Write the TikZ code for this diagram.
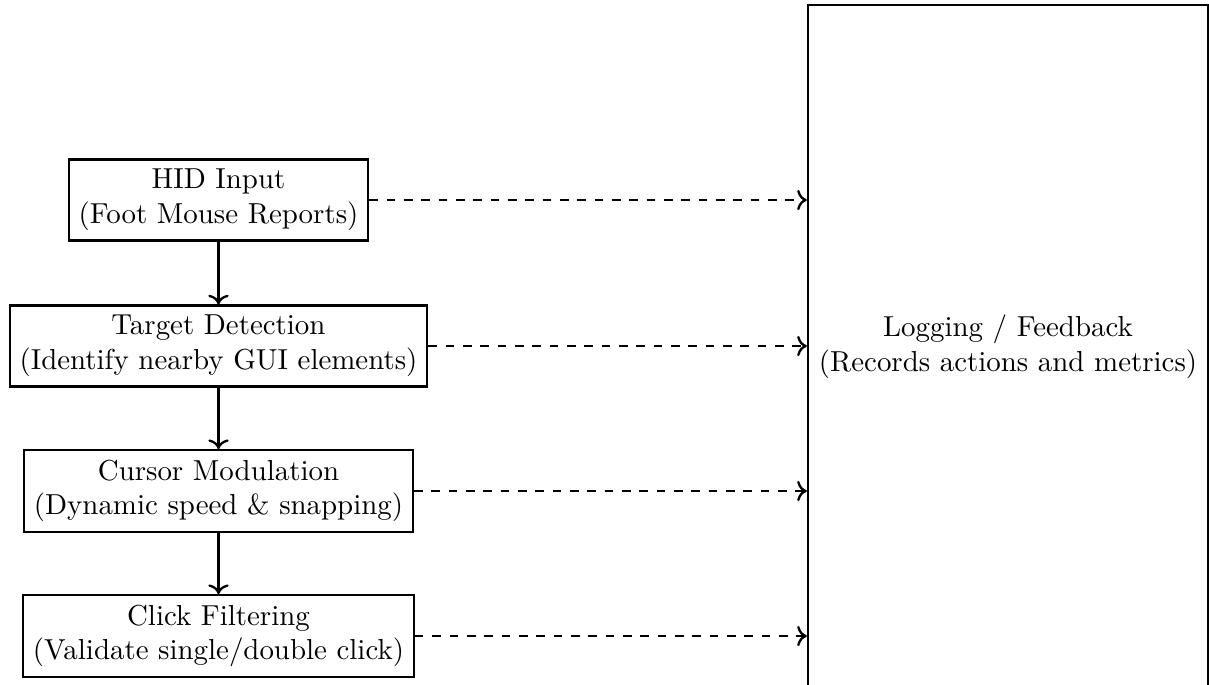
\documentclass[tikz,border=0pt]{standalone}
\usetikzlibrary{arrows.meta}
\begin{document}
\begin{tikzpicture}[
  x=0.34602pt, y=-0.34602pt,
  stage/.style={draw, thick, align=center, inner sep=3.33pt},
  logbox/.style={draw, thick, align=center, minimum width=138.4pt, minimum height=236.7pt},
  flow/.style={->, thick},
  feed/.style={->, thick, dashed}
]
\useasboundingbox (0,0) rectangle (1209,684);
\clip (0,0) rectangle (1209,684);

% processing pipeline
\node[stage] (hid) at (218.5,200) {HID Input\\(Foot Mouse Reports)};
\node[stage] (det) at (218.5,346) {Target Detection\\(Identify nearby GUI elements)};
\node[stage] (mod) at (218.5,491) {Cursor Modulation\\(Dynamic speed \& snapping)};
\node[stage] (clk) at (218.5,636) {Click Filtering\\(Validate single/double click)};

% logging sink
\node[logbox] (log) at (1008,347) {Logging / Feedback\\(Records actions and metrics)};

\draw[flow] (hid) -- (det);
\draw[flow] (det) -- (mod);
\draw[flow] (mod) -- (clk);

\draw[feed] (hid.east) -- (hid.east -| log.west);
\draw[feed] (det.east) -- (det.east -| log.west);
\draw[feed] (mod.east) -- (mod.east -| log.west);
\draw[feed] (clk.east) -- (clk.east -| log.west);
\end{tikzpicture}
\end{document}
